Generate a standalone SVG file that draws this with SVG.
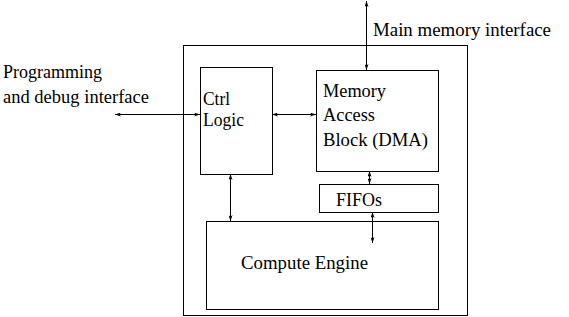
<svg xmlns="http://www.w3.org/2000/svg" width="569" height="317" viewBox="0 0 569 317">
  <style>
    .box { fill: none; stroke: #000; stroke-width: 1; }
    .wire { fill: none; stroke: #000; stroke-width: 1; }
    .lbl { font-family: 'Liberation Serif', 'Times New Roman', serif; font-size: 18px; fill: #000; }
  </style>
  <defs>
    <marker id="tip" viewBox="0 0 6 4" refX="6" refY="2" markerWidth="6" markerHeight="4" markerUnits="userSpaceOnUse" orient="auto-start-reverse">
      <path d="M0,0 L6,2 L0,4 L1.5,2 Z" fill="#000"/>
    </marker>
  </defs>
  <rect width="569" height="317" fill="#fff"/>

  <!-- enclosing chip boundary -->
  <g id="chip">
    <rect class="box" x="183.5" y="45.5" width="284" height="270"/>
  </g>

  <g id="ctrl-logic">
    <rect class="box" x="200.5" y="67.5" width="72" height="107"/>
    <text class="lbl" x="203" y="105" textLength="27" lengthAdjust="spacingAndGlyphs">Ctrl</text>
    <text class="lbl" x="203" y="126" textLength="41" lengthAdjust="spacingAndGlyphs">Logic</text>
  </g>

  <g id="dma">
    <rect class="box" x="316.5" y="70.5" width="122" height="101"/>
    <text class="lbl" x="323" y="97" textLength="63" lengthAdjust="spacingAndGlyphs">Memory</text>
    <text class="lbl" x="323" y="121" textLength="52" lengthAdjust="spacingAndGlyphs">Access</text>
    <text class="lbl" x="323" y="146" textLength="105" lengthAdjust="spacingAndGlyphs">Block (DMA)</text>
  </g>

  <g id="fifos">
    <rect class="box" x="319.5" y="184.5" width="119" height="28"/>
    <text class="lbl" x="336" y="206" textLength="46" lengthAdjust="spacingAndGlyphs">FIFOs</text>
  </g>

  <g id="compute-engine">
    <rect class="box" x="206.5" y="221.5" width="232" height="88"/>
    <text class="lbl" x="241" y="269" textLength="127" lengthAdjust="spacingAndGlyphs">Compute Engine</text>
  </g>

  <g id="labels">
    <text class="lbl" x="373" y="36" textLength="178" lengthAdjust="spacingAndGlyphs">Main memory interface</text>
    <text class="lbl" x="3" y="78" textLength="99" lengthAdjust="spacingAndGlyphs">Programming</text>
    <text class="lbl" x="3" y="103" textLength="146" lengthAdjust="spacingAndGlyphs">and debug interface</text>
  </g>

  <g id="connectors">
    <line class="wire" x1="115" y1="114.5" x2="200" y2="114.5" marker-start="url(#tip)" marker-end="url(#tip)"/>
    <line class="wire" x1="272" y1="114.5" x2="316" y2="114.5" marker-start="url(#tip)" marker-end="url(#tip)"/>
    <line class="wire" x1="366.5" y1="1" x2="366.5" y2="70" marker-start="url(#tip)" marker-end="url(#tip)"/>
    <line class="wire" x1="230.5" y1="174" x2="230.5" y2="221" marker-start="url(#tip)" marker-end="url(#tip)"/>
    <line class="wire" x1="369.5" y1="171" x2="369.5" y2="184" marker-start="url(#tip)" marker-end="url(#tip)"/>
    <line class="wire" x1="372.5" y1="212" x2="372.5" y2="243" marker-start="url(#tip)" marker-end="url(#tip)"/>
  </g>
</svg>
